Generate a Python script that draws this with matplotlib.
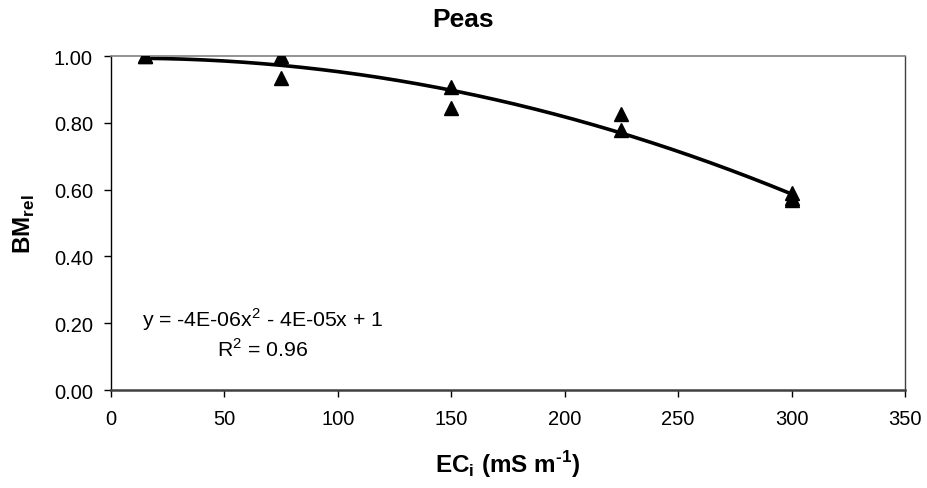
import numpy as np
import matplotlib
matplotlib.use("Agg")
import matplotlib.pyplot as plt

plt.rcParams['font.family'] = ['Liberation Sans', 'DejaVu Sans']

# measured points (EC_i in mS/m, relative biomass)
ecI = [15, 15, 75, 75, 150, 150, 225, 225, 300, 300, 300]
bmRel = [1.00, 1.00, 1.00, 0.935, 0.906, 0.844, 0.826, 0.778, 0.590, 0.575, 0.570]

xTicks = [0, 50, 100, 150, 200, 250, 300, 350]
yTicks = [0.0, 0.2, 0.4, 0.6, 0.8, 1.0]

# quadratic trendline through the data
coef = np.polyfit(ecI, bmRel, 2)
xs = np.linspace(min(ecI), max(ecI), 200)
ys = np.polyval(coef, xs)

fig = plt.figure(figsize=(9.27, 4.89), dpi=100)
ax = fig.add_axes([0.1197, 0.2004, 0.8566, 0.683])

ax.plot(xs, ys, color="black", lw=2.6, zorder=2)
ax.plot(ecI, bmRel, linestyle="none", marker="^", color="black", markersize=9.5, zorder=3)

ax.set_xlim(0, 350)
ax.set_ylim(0, 1.0)
ax.set_xticks(xTicks)
ax.set_yticks(yTicks)
ax.set_yticklabels([f"{v:.2f}" for v in yTicks])
ax.tick_params(axis="both", direction="out", length=5, width=1, labelsize=14.5)
ax.tick_params(axis="x", pad=9)
ax.tick_params(axis="y", pad=8)

ax.spines["left"].set_color("black")
ax.spines["left"].set_linewidth(1)
ax.spines["bottom"].set_color("#404040")
ax.spines["bottom"].set_linewidth(1.8)
ax.spines["top"].set_color("#808080")
ax.spines["top"].set_linewidth(1.2)
ax.spines["right"].set_color("#404040")
ax.spines["right"].set_linewidth(1)
for s in ax.spines.values():
    s.set_clip_on(False)

hy = "\u2010"  # plain hyphen, mathtext would turn "-" into a minus
ax.set_xlabel("EC$_\\mathregular{i}$ (mS m$^\\mathregular{" + hy + "1}$)", fontsize=17.5, fontweight="bold", labelpad=14)
ax.set_ylabel(r"BM$_\mathregular{rel}$", fontsize=17.5, fontweight="bold", labelpad=12)
fig.text(0.5, 0.959, "Peas", ha="center", va="center", fontsize=19, fontweight="bold")

ax.text(0.191, 0.213, "y = -4E-06x$^\\mathregular{2}$ - 4E-05x + 1", transform=ax.transAxes,
        ha="center", va="center", fontsize=15.3)
ax.text(0.191, 0.123, "R$^\\mathregular{2}$ = 0.96", transform=ax.transAxes,
        ha="center", va="center", fontsize=15.3)

fig.savefig("out.png", dpi=100)
